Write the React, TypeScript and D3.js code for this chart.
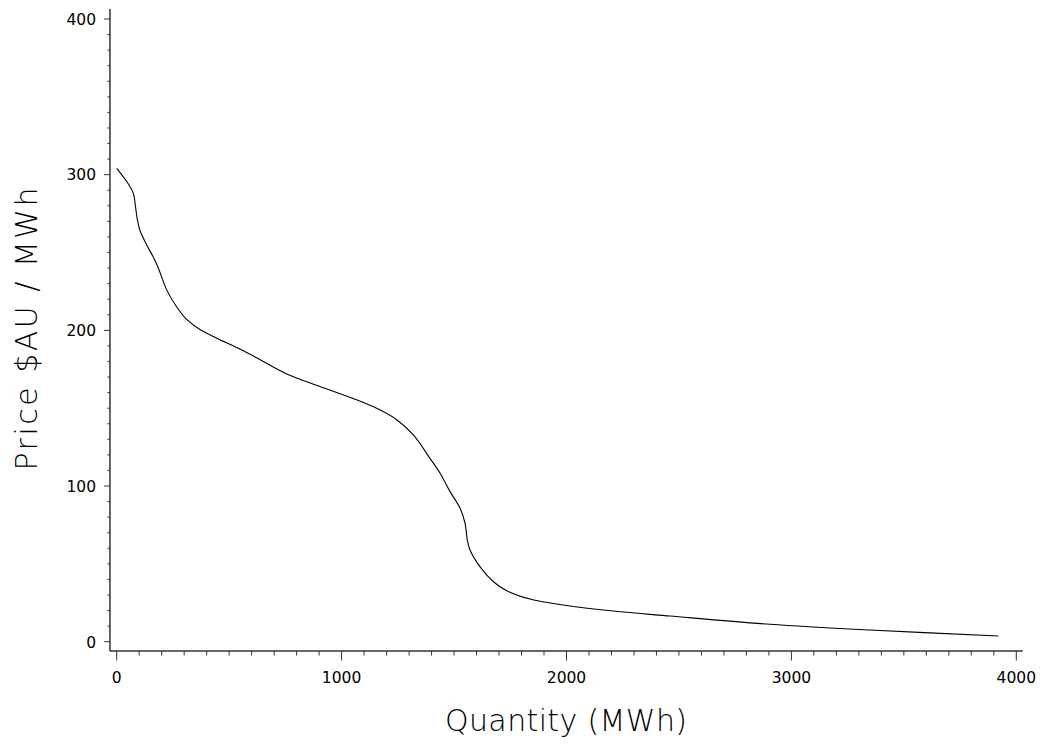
import React from "react";
import * as d3 from "d3";

const quantity = [0, 52, 74, 84, 92, 104, 133, 170, 193, 222, 267, 311, 370, 445, 534, 608, 756, 904, 1052, 1156, 1245, 1319, 1393, 1438, 1482, 1527, 1549, 1559, 1571, 1615, 1675, 1734, 1838, 1986, 2208, 2460, 2904, 3349, 3920];
const price = [304, 294, 288, 279, 271, 264, 255, 245, 237, 226, 215, 207, 200.5, 195, 189, 183.5, 172, 164, 156.2, 149.9, 142.6, 132.8, 117.8, 108.2, 96.4, 85.7, 76, 65.3, 58.9, 48.2, 38.5, 32.8, 27.4, 23.6, 19.7, 16.5, 11.2, 7.5, 3.7];

const xMajorTicks = [0, 1000, 2000, 3000, 4000];
const yMajorTicks = [0, 100, 200, 300, 400];
const xLabel = "Quantity (MWh)";
const yLabel = "Price $AU / MWh";

const W = 1043;
const H = 746;

export default function App() {
  const x = d3.scaleLinear().domain([0, 4000]).range([116.7, 1016.3]);
  const y = d3.scaleLinear().domain([0, 400]).range([641.7, 19]);

  const axisX = x(-30);
  const axisY = y(-6);
  const xEnd = x(4029);
  const yTop = y(406.5);

  const xMinor = d3.range(100, 4000, 100).filter((v) => v % 1000 !== 0);
  const yMinor = d3.range(10, 400, 10).filter((v) => v % 100 !== 0);

  const data = quantity.map((q, i) => [q, price[i]] as [number, number]);
  const line = d3
    .line<[number, number]>()
    .x((d) => x(d[0]))
    .y((d) => y(d[1]))
    .curve(d3.curveCatmullRom.alpha(0.5));

  const axisColor = "#333";
  const font = "'DejaVu Sans', sans-serif";

  return (
    <svg
      width={W}
      height={H}
      style={{ position: "absolute", left: 0, top: 0, background: "#fff" }}
    >
      <rect x={0} y={0} width={W} height={H} fill="#fff" />
      <line x1={axisX} y1={yTop} x2={axisX} y2={axisY} stroke={axisColor} strokeWidth={1.5} />
      <line x1={axisX} y1={axisY} x2={xEnd} y2={axisY} stroke={axisColor} strokeWidth={1.5} />
      {xMinor.map((v) => (
        <line key={"xm" + v} x1={x(v)} x2={x(v)} y1={axisY} y2={axisY + 4.5} stroke={axisColor} strokeWidth={1} />
      ))}
      {xMajorTicks.map((v) => (
        <g key={"xM" + v}>
          <line x1={x(v)} x2={x(v)} y1={axisY} y2={axisY + 9.5} stroke={axisColor} strokeWidth={1} />
          <text x={x(v)} y={682.5} textAnchor="middle" fontFamily={font} fontSize={15.5} fill="#000">
            {v}
          </text>
        </g>
      ))}
      {yMinor.map((v) => (
        <line key={"ym" + v} x1={axisX - 2.5} x2={axisX} y1={y(v)} y2={y(v)} stroke={axisColor} strokeWidth={1} />
      ))}
      {yMajorTicks.map((v) => (
        <g key={"yM" + v}>
          <line x1={axisX - 6} x2={axisX} y1={y(v)} y2={y(v)} stroke={axisColor} strokeWidth={1} />
          <text x={96} y={y(v) + 5.8} textAnchor="end" fontFamily={font} fontSize={15.5} fill="#000">
            {v}
          </text>
        </g>
      ))}
      <path d={line(data) || ""} fill="none" stroke="#000" strokeWidth={1.1} />
      <text
        x={566}
        y={731}
        textAnchor="middle"
        fontFamily={font}
        fontSize={30}
        fontWeight={200}
        fill="#000"
        textLength={242}
        lengthAdjust="spacing"
      >
        {xLabel}
      </text>
      <text
        transform={`translate(37, 329) rotate(-90)`}
        textAnchor="middle"
        fontFamily={font}
        fontSize={30}
        fontWeight={200}
        fill="#000"
        textLength={283}
        lengthAdjust="spacing"
      >
        {yLabel}
      </text>
    </svg>
  );
}
